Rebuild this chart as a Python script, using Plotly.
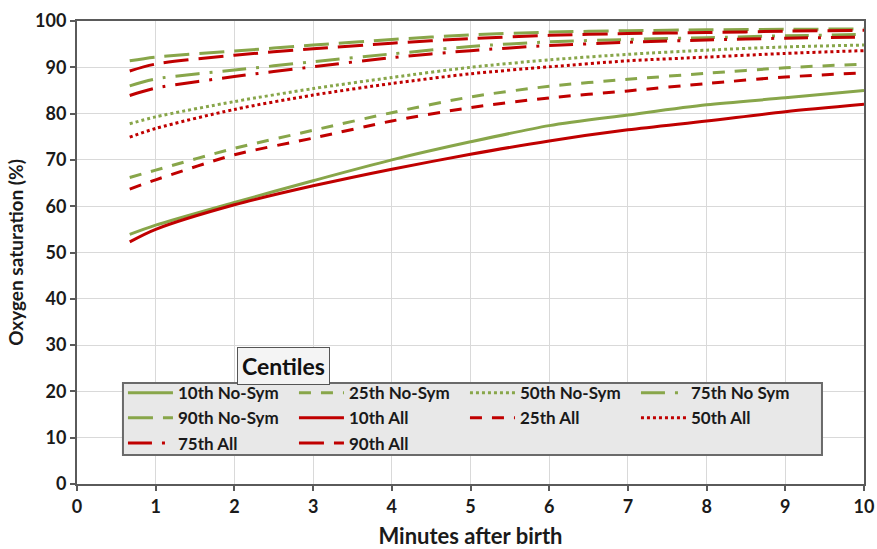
import plotly.graph_objects as go

minutes = [0.67, 1, 2, 3, 4, 5, 6, 7, 8, 9, 10]

ns10 = [53.9, 55.9, 60.8, 65.5, 70.0, 73.9, 77.4, 79.7, 81.9, 83.4, 85.0]
ns25 = [66.2, 67.8, 72.5, 76.4, 80.2, 83.6, 85.9, 87.4, 88.7, 89.9, 90.7]
ns50 = [77.8, 79.3, 82.6, 85.4, 87.8, 90.0, 91.6, 92.8, 93.7, 94.4, 94.8]
ns75 = [86.0, 87.5, 89.4, 91.2, 92.9, 94.5, 95.5, 96.0, 96.4, 96.8, 97.1]
ns90 = [91.4, 92.2, 93.5, 94.8, 96.0, 97.0, 97.6, 97.9, 98.1, 98.2, 98.3]

all10 = [52.3, 55.0, 60.3, 64.4, 68.0, 71.2, 74.1, 76.5, 78.4, 80.4, 82.0]
all25 = [63.7, 65.7, 71.1, 74.7, 78.4, 81.3, 83.4, 84.9, 86.5, 87.9, 88.8]
all50 = [74.9, 76.8, 80.9, 84.0, 86.5, 88.6, 90.1, 91.4, 92.2, 93.0, 93.6]
all75 = [83.9, 85.5, 88.0, 90.1, 92.1, 93.6, 94.7, 95.4, 95.9, 96.3, 96.5]
all90 = [89.2, 90.7, 92.6, 94.0, 95.2, 96.2, 96.9, 97.3, 97.5, 97.8, 98.0]

x_ticks = list(range(0, 11))
y_ticks = list(range(0, 101, 10))

GREEN = "#88a64a"
RED = "#c00000"
SOLID = "solid"
DASH25 = "12px,10px"
DOT50 = "3px,3px"
DASHDOT75 = "24px,10px,3px,10px"
LONG90 = "25px,10px"

series = [
    ("10th No-Sym", ns10, GREEN, SOLID),
    ("25th No-Sym", ns25, GREEN, DASH25),
    ("50th No-Sym", ns50, GREEN, DOT50),
    ("75th No Sym", ns75, GREEN, DASHDOT75),
    ("90th No-Sym", ns90, GREEN, LONG90),
    ("10th All", all10, RED, SOLID),
    ("25th All", all25, RED, DASH25),
    ("50th All", all50, RED, DOT50),
    ("75th All", all75, RED, DASHDOT75),
    ("90th All", all90, RED, LONG90),
]

fig = go.Figure()
for name, vals, col, dash in series:
    fig.add_trace(go.Scatter(
        x=minutes, y=vals, name=name, mode="lines",
        line=dict(color=col, width=3, dash=dash, shape="spline", smoothing=0.8),
    ))

FONT = "Lato, 'Open Sans', Arial, sans-serif"

fig.update_layout(
    width=877, height=549,
    margin=dict(l=77, r=13, t=21, b=65, autoexpand=False),
    paper_bgcolor="white", plot_bgcolor="white",
    font=dict(family=FONT, color="#1a1a1a"),
    showlegend=True,
    legend=dict(
        orientation="h", x=0.0584, y=0.235, xanchor="left", yanchor="top",
        bgcolor="rgba(0,0,0,0)", borderwidth=0,
        font=dict(family=FONT, size=17, weight="bold", color="#1a1a1a"),
        entrywidth=111, entrywidthmode="pixels", itemwidth=45,
        tracegroupgap=0,
    ),
    shapes=[dict(
        type="rect", xref="paper", yref="paper",
        x0=0.0584, x1=0.9466, y0=0.0626, y1=0.218,
        fillcolor="#e8e8e8", line=dict(color="#6a6a6a", width=2), layer="above",
    )],
    annotations=[dict(
        text="Centiles", xref="paper", yref="paper", x=0.263, y=0.255,
        xanchor="center", yanchor="middle", showarrow=False,
        font=dict(family=FONT, size=23, weight="bold", color="#111"),
        bgcolor="#f4f4f4", bordercolor="#555", borderwidth=1, borderpad=4,
    )],
)

fig.update_xaxes(
    range=[0, 10], tickvals=x_ticks, ticktext=[str(v) for v in x_ticks],
    showgrid=True, gridcolor="#d9d9d9", gridwidth=1,
    showline=True, linecolor="#5a5a5a", linewidth=2, mirror=True,
    ticks="outside", ticklen=5, tickcolor="#5a5a5a", tickwidth=1.5,
    tickfont=dict(family=FONT, size=18, weight="bold", color="#1a1a1a"),
    title=dict(text="Minutes after birth", standoff=18,
               font=dict(family=FONT, size=22, weight="bold", color="#1a1a1a")),
    zeroline=False, automargin=False,
)
fig.update_yaxes(
    range=[0, 100], tickvals=y_ticks, ticktext=[str(v) for v in y_ticks],
    showgrid=True, gridcolor="#d9d9d9", gridwidth=1,
    showline=True, linecolor="#5a5a5a", linewidth=2, mirror=True,
    ticks="outside", ticklen=5, tickcolor="#5a5a5a", tickwidth=1.5,
    tickfont=dict(family=FONT, size=18, weight="bold", color="#1a1a1a"),
    title=dict(text="Oxygen saturation (%)", standoff=6,
               font=dict(family=FONT, size=19, weight="bold", color="#1a1a1a")),
    zeroline=False, automargin=False,
)

fig.write_html("out.html", config={"displayModeBar": False},
               post_script="document.body.style.margin='0px';")
